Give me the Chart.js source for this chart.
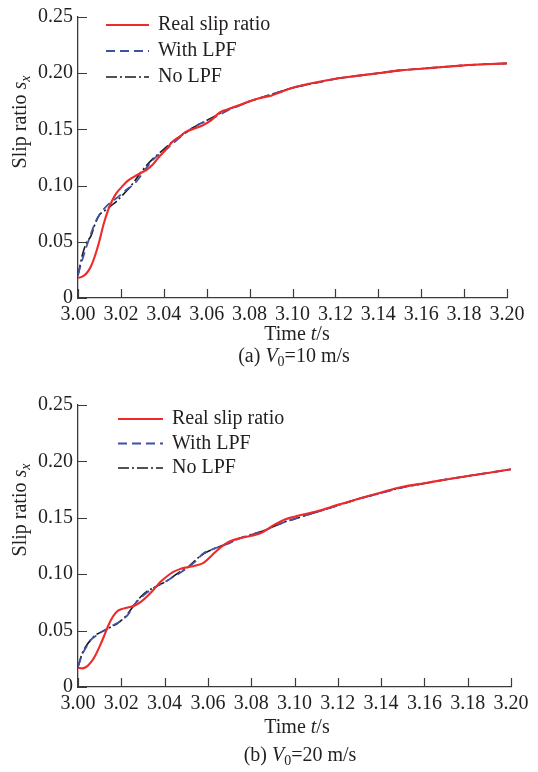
<!DOCTYPE html>
<html>
<head>
<meta charset="utf-8">
<script src="https://cdn.jsdelivr.net/npm/chart.js@4.4.1/dist/chart.umd.min.js"></script>
<style>
    html, body { margin: 0; padding: 0; background: #fff; }
    .panel { position: absolute; left: 0; width: 538px; height: 386px; }
    #panelA { top: 0; }
    #panelB { top: 386px; }
</style>
</head>
<body>
<div class="panel" id="panelA"><canvas id="chartA" width="538" height="386"></canvas></div>
<div class="panel" id="panelB"><canvas id="chartB" width="538" height="386"></canvas></div>
<script>
// time grid shared by both panels (s)
const timeGrid = [
    3.000, 3.002, 3.004, 3.006, 3.008, 3.010, 3.012, 3.014, 3.016, 3.018, 3.020,
    3.023, 3.026, 3.029, 3.032, 3.035, 3.038, 3.041, 3.044, 3.047, 3.050,
    3.054, 3.058, 3.062, 3.066, 3.070,
    3.075, 3.080, 3.085, 3.090, 3.095, 3.100,
    3.110, 3.120, 3.130, 3.140, 3.150, 3.160, 3.170, 3.180, 3.190, 3.200
];

// (a) V0 = 10 m/s
const realA10 = [
    0.018, 0.019, 0.022, 0.028, 0.038, 0.051, 0.066, 0.078, 0.087, 0.0935, 0.098,
    0.104, 0.1077, 0.111, 0.114, 0.119, 0.126, 0.132, 0.139, 0.143, 0.1475,
    0.1505, 0.1535, 0.158, 0.165, 0.168,
    0.1715, 0.175, 0.178, 0.180, 0.1835, 0.187,
    0.1915, 0.195, 0.1976, 0.200, 0.2025, 0.204, 0.2055, 0.207, 0.208, 0.2087
];
const lpfA10 = [
    0.021, 0.034, 0.046, 0.057, 0.067, 0.074, 0.079, 0.083, 0.086, 0.089, 0.092,
    0.097, 0.101, 0.108, 0.116, 0.123, 0.128, 0.132, 0.137, 0.142, 0.1466,
    0.152, 0.156, 0.159, 0.163, 0.167,
    0.171, 0.175, 0.178, 0.181, 0.184, 0.187,
    0.191, 0.195, 0.1976, 0.200, 0.2025, 0.204, 0.2055, 0.207, 0.208, 0.2087
];
const noLpfA10 = [
    0.020, 0.038, 0.0495, 0.055, 0.066, 0.074, 0.077, 0.080, 0.083, 0.086, 0.090,
    0.096, 0.103, 0.111, 0.118, 0.124, 0.129, 0.134, 0.139, 0.143, 0.147,
    0.152, 0.156, 0.160, 0.164, 0.168,
    0.171, 0.175, 0.178, 0.181, 0.184, 0.187,
    0.191, 0.195, 0.1976, 0.200, 0.2025, 0.204, 0.2055, 0.207, 0.208, 0.2087
];

// (b) V0 = 20 m/s
const realB20 = [
    0.017, 0.0165, 0.018, 0.022, 0.028, 0.036, 0.045, 0.0545, 0.062, 0.067, 0.069,
    0.0705, 0.072, 0.0755, 0.0805, 0.0865, 0.093, 0.098, 0.102, 0.1045, 0.106,
    0.1075, 0.110, 0.117, 0.124, 0.129,
    0.132, 0.134, 0.137, 0.143, 0.148, 0.151,
    0.1556, 0.1615, 0.1672, 0.1725, 0.1775, 0.1807, 0.184, 0.187, 0.190, 0.193
];
const lpfB20 = [
    0.018, 0.029, 0.036, 0.042, 0.045, 0.048, 0.050, 0.052, 0.0545, 0.0565, 0.059,
    0.064, 0.073, 0.079, 0.084, 0.088, 0.091, 0.094, 0.0975, 0.101, 0.105,
    0.111, 0.1185, 0.122, 0.125, 0.1275,
    0.132, 0.135, 0.138, 0.142, 0.146, 0.149,
    0.155, 0.161, 0.167, 0.172, 0.177, 0.1805, 0.184, 0.187, 0.190, 0.193
];
const noLpfB20 = [
    0.018, 0.030, 0.037, 0.042, 0.046, 0.048, 0.050, 0.052, 0.054, 0.056, 0.059,
    0.065, 0.073, 0.080, 0.085, 0.088, 0.091, 0.094, 0.098, 0.102, 0.105,
    0.112, 0.118, 0.122, 0.125, 0.128,
    0.132, 0.135, 0.138, 0.142, 0.146, 0.149,
    0.155, 0.161, 0.167, 0.172, 0.177, 0.1805, 0.184, 0.187, 0.190, 0.193
];

const seriesNames = ['Real slip ratio', 'With LPF', 'No LPF'];
const xTickValues = [3.00, 3.02, 3.04, 3.06, 3.08, 3.10, 3.12, 3.14, 3.16, 3.18, 3.20];
const yTickValues = [0, 0.05, 0.10, 0.15, 0.20, 0.25];

const serif = "'Liberation Serif', 'Times New Roman', serif";
const textColor = '#231f20';
const axisColor = '#3a3a3a';
const colors = ['#ee2a2a', '#3f51a3', '#1a1a1a'];
const dashes = [[], [9, 5], [11, 3, 2, 3]];
const widths = [2.1, 1.8, 1.6];

function toPoints(values) {
    return timeGrid.map((t, i) => ({ x: t, y: values[i] }));
}

function fontOf(size, italic) {
    return (italic ? 'italic ' : '') + size + 'px ' + serif;
}

// draw a line of text with italic / subscript pieces, centred at (cx, cy)
function drawRich(ctx, parts, cx, cy) {
    let total = 0;
    parts.forEach(p => {
        ctx.font = fontOf(p.sub ? 14 : 20, p.italic);
        p.w = ctx.measureText(p.t).width;
        total += p.w;
    });
    let x = cx - total / 2;
    ctx.textBaseline = 'middle';
    ctx.textAlign = 'left';
    parts.forEach(p => {
        ctx.font = fontOf(p.sub ? 14 : 20, p.italic);
        ctx.fillText(p.t, x, cy + (p.sub ? 5 : 0));
        x += p.w;
    });
}

const decorPlugin = {
    id: 'decor',
    afterDraw(chart, args, opts) {
        const ctx = chart.ctx;
        const area = chart.chartArea;
        const xs = chart.scales.x;
        const ys = chart.scales.y;
        ctx.save();

        // inward tick marks
        ctx.strokeStyle = axisColor;
        ctx.lineWidth = 1.2;
        ctx.beginPath();
        xTickValues.forEach(v => {
            const px = Math.round(xs.getPixelForValue(v)) + 0.5;
            ctx.moveTo(px, area.bottom);
            ctx.lineTo(px, area.bottom - 9);
        });
        yTickValues.forEach(v => {
            const py = Math.round(ys.getPixelForValue(v)) + 0.5;
            ctx.moveTo(area.left, py);
            ctx.lineTo(area.left + 9, py);
        });
        ctx.stroke();

        // legend
        const lg = opts.legend;
        chart.data.datasets.forEach((ds, i) => {
            const y = lg.y0 + i * lg.dy;
            ctx.strokeStyle = ds.borderColor;
            ctx.lineWidth = ds.borderWidth;
            ctx.setLineDash(ds.borderDash || []);
            ctx.beginPath();
            ctx.moveTo(lg.x0, y);
            ctx.lineTo(lg.x1, y);
            ctx.stroke();
            ctx.setLineDash([]);
            ctx.fillStyle = textColor;
            ctx.font = fontOf(20, false);
            ctx.textAlign = 'left';
            ctx.textBaseline = 'middle';
            ctx.fillText(ds.label, lg.textX, y);
        });

        ctx.fillStyle = textColor;
        // y axis title
        ctx.save();
        ctx.translate(21, area.top + 105);
        ctx.rotate(-Math.PI / 2);
        drawRich(ctx, [{ t: 'Slip ratio ' }, { t: 's', italic: true }, { t: 'x', italic: true, sub: true }], 0, 0);
        ctx.restore();

        // x axis title and caption
        drawRich(ctx, [{ t: 'Time ' }, { t: 't', italic: true }, { t: '/s' }], opts.timeX, opts.timeY);
        drawRich(ctx, [{ t: opts.tag + ' ' }, { t: 'V', italic: true }, { t: '0', sub: true }, { t: '=' + opts.speed + ' m/s' }],
            opts.capX, opts.capY);
        ctx.restore();
    }
};

function makeChart(canvasId, real, lpf, noLpf, layout) {
    const canvas = document.getElementById(canvasId);
    const seriesValues = [real, lpf, noLpf];
    return new Chart(canvas, {
        type: 'line',
        data: {
            datasets: seriesValues.map((vals, i) => ({
                label: seriesNames[i],
                data: toPoints(vals),
                borderColor: colors[i],
                borderWidth: widths[i],
                borderDash: dashes[i],
                pointRadius: 0,
                fill: false,
                cubicInterpolationMode: 'monotone',
            })),
        },
        options: {
            responsive: false,
            animation: false,
            events: [],
            layout: {
                padding: { left: 0, right: layout.padRight, top: layout.padTop, bottom: 0 },
            },
            scales: {
                x: {
                    type: 'linear',
                    min: 3.0,
                    max: 3.2,
                    afterBuildTicks: s => { s.ticks = xTickValues.map(v => ({ value: v })); },
                    afterFit: s => { s.height = layout.xHeight; },
                    grid: { display: false, drawTicks: false },
                    border: { display: true, color: axisColor, width: 1.3 },
                    ticks: {
                        autoSkip: false,
                        maxRotation: 0,
                        padding: 5,
                        color: textColor,
                        font: { family: serif, size: 20 },
                        callback: v => v.toFixed(2),
                    },
                },
                y: {
                    min: 0,
                    max: 0.25,
                    afterBuildTicks: s => { s.ticks = yTickValues.map(v => ({ value: v })); },
                    afterFit: s => { s.width = 78; },
                    grid: { display: false, drawTicks: false },
                    border: { display: true, color: axisColor, width: 1.3 },
                    ticks: {
                        padding: 5,
                        color: textColor,
                        font: { family: serif, size: 20 },
                        callback: v => (v === 0 ? '0' : v.toFixed(2)),
                    },
                },
            },
            plugins: {
                legend: { display: false },
                tooltip: { enabled: false },
                decor: layout.decor,
            },
        },
        plugins: [decorPlugin],
    });
}

document.addEventListener('DOMContentLoaded', () => {
    makeChart('chartA', realA10, lpfA10, noLpfA10, {
        padRight: 31, padTop: 14, xHeight: 88,
        decor: {
            legend: { x0: 106, x1: 149, y0: 25, dy: 26, textX: 158 },
            timeX: 297, timeY: 335, capX: 294, capY: 357, tag: '(a)', speed: '10',
        },
    });
    makeChart('chartB', realB20, lpfB20, noLpfB20, {
        padRight: 27, padTop: 19, xHeight: 85,
        decor: {
            legend: { x0: 118, x1: 163, y0: 33, dy: 24.5, textX: 172 },
            timeX: 297, timeY: 342, capX: 300, capY: 370, tag: '(b)', speed: '20',
        },
    });
});
</script>
</body>
</html>
